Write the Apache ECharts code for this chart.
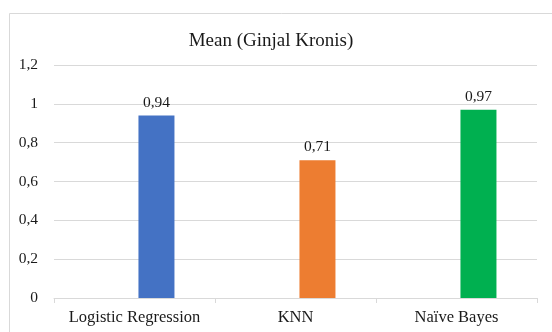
<!DOCTYPE html>
<html>
<head>
<meta charset="utf-8">
<script src="https://cdn.jsdelivr.net/npm/echarts@6/dist/echarts.min.js"></script>
<style>html,body{margin:0;padding:0;background:#fff}#c{width:552px;height:332px}</style>
</head>
<body>
<div id="c"></div>
<script>
const titleText = 'Mean (Ginjal Kronis)';
const categories = ['Logistic Regression', 'KNN', 'Naïve Bayes'];
const values = [0.94, 0.71, 0.97];
const barColors = ['#4472C4', '#ED7D31', '#00B050'];
const yMin = 0, yMax = 1.2, yStep = 0.2;

const fmt = v => String(Math.round(v * 100) / 100).replace('.', ',');
const font = '"Liberation Serif", "Times New Roman", serif';

const chart = echarts.init(document.getElementById('c'), null, {renderer: 'canvas'});
chart.setOption({
  animation: false,
  backgroundColor: '#fff',
  graphic: [{
    type: 'rect', shape: {x: 9.5, y: 13.5, width: 600, height: 400},
    style: {fill: 'none', stroke: '#d9d9d9', lineWidth: 1}, silent: true, z: -1
  }],
  title: {
    text: titleText, left: 266, top: 27, textAlign: 'center',
    textStyle: {fontFamily: font, fontSize: 19, fontWeight: 'normal', color: '#1a1a1a'}
  },
  grid: {left: 54, right: 15, top: 65, bottom: 34, containLabel: false},
  xAxis: {
    type: 'category', data: categories,
    axisLine: {lineStyle: {color: '#d9d9d9'}},
    axisTick: {show: true, interval: 0, length: 5, lineStyle: {color: '#d9d9d9'}},
    axisLabel: {interval: 0, hideOverlap: false, fontFamily: font, fontSize: 16.5, color: '#1a1a1a', margin: 11}
  },
  yAxis: {
    type: 'value', min: yMin, max: yMax, interval: yStep,
    axisLine: {show: false}, axisTick: {show: false},
    splitLine: {lineStyle: {color: '#d9d9d9'}},
    axisLabel: {fontFamily: font, fontSize: 15.5, color: '#1a1a1a', margin: 16, formatter: fmt}
  },
  series: [
    {type: 'bar', data: categories.map(() => null), barWidth: 36, barGap: '22%', silent: true},
    {
      type: 'bar', barWidth: 36, barGap: '22%',
      data: values.map((v, i) => ({value: v, itemStyle: {color: barColors[i]}})),
      label: {show: true, position: 'top', distance: 5, formatter: p => fmt(p.value),
              fontFamily: font, fontSize: 15.5, color: '#1a1a1a'}
    }
  ]
});
</script>
</body>
</html>
